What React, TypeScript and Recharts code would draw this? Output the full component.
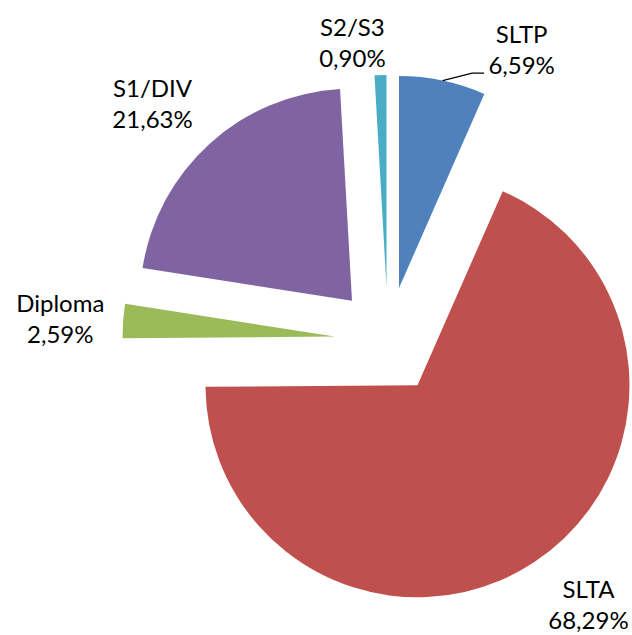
import { PieChart, Pie, Cell } from 'recharts';

const CATEGORIES = ['SLTP', 'SLTA', 'Diploma', 'S1/DIV', 'S2/S3'];
const SHARES = [6.59, 68.29, 2.59, 21.63, 0.9];
const PCT_LABELS = ['6,59%', '68,29%', '2,59%', '21,63%', '0,90%'];
const COLORS = ['#4F81BD', '#C0504D', '#9BBB59', '#8064A2', '#4BACC6'];

// label placement: distance from pie centre, and angular nudge (deg, clockwise) from slice mid
const LABEL_R = [312, 339, 328, 328, 291];
const LABEL_NUDGE = [13.5, -2.9, -2.0, -3.7, -5.4];

const data = CATEGORIES.map((name, i) => ({ name, value: SHARES[i], pct: PCT_LABELS[i] }));

const CX = 388;
const CY = 340.5;
const RADIUS = 212;
const EXPLODE = 53.6;
const FONT = 'Lato, "Open Sans", sans-serif';

const total = SHARES.reduce((a, b) => a + b, 0);
// clockwise-from-12-o'clock mid angle of each slice
const midCw = SHARES.map((v, i) => {
  const before = SHARES.slice(0, i).reduce((a, b) => a + b, 0);
  return ((before + v / 2) / total) * 360;
});
const rad = (d: number) => (d * Math.PI) / 180;

function renderLabel(props: any) {
  const { cx, cy, midAngle, index } = props;
  const ang = midAngle - LABEL_NUDGE[index];
  const x = cx + LABEL_R[index] * Math.cos(rad(ang));
  const y = cy - LABEL_R[index] * Math.sin(rad(ang));
  let leader = null;
  if (index === 0) {
    const ex = cx + EXPLODE * Math.cos(rad(midAngle));
    const ey = cy - EXPLODE * Math.sin(rad(midAngle));
    const sx = ex + RADIUS * Math.cos(rad(midAngle));
    const sy = ey - RADIUS * Math.sin(rad(midAngle));
    const endX = x - 37.5;
    const endY = y + 14.5;
    leader = (
      <polyline
        points={`${sx},${sy} ${endX - 12},${endY} ${endX},${endY}`}
        fill="none"
        stroke="#000"
        strokeWidth={1.3}
      />
    );
  }
  return (
    <g key={`lbl-${index}`}>
      {leader}
      <text x={x} y={y} textAnchor="middle" fontFamily={FONT} fontSize={24} fill="#000">
        <tspan x={x} y={y - 15.5}>{CATEGORIES[index]}</tspan>
        <tspan x={x} y={y + 15.5}>{PCT_LABELS[index]}</tspan>
      </text>
    </g>
  );
}

export default function App() {
  return (
    <div style={{ position: 'absolute', left: 0, top: 0, width: 632, height: 635, background: '#fff' }}>
      <PieChart width={632} height={635} margin={{ top: 0, right: 0, bottom: 0, left: 0 }}>
        {data.map((_, s) => (
          <Pie
            key={`slice-${s}`}
            data={data}
            dataKey="value"
            nameKey="name"
            cx={CX + EXPLODE * Math.sin(rad(midCw[s]))}
            cy={CY - EXPLODE * Math.cos(rad(midCw[s]))}
            outerRadius={RADIUS}
            startAngle={90}
            endAngle={-270}
            stroke="none"
            labelLine={false}
            isAnimationActive={false}
          >
            {data.map((d, i) => (
              <Cell key={d.name} fill={i === s ? COLORS[i] : 'none'} stroke="none" />
            ))}
          </Pie>
        ))}
        <Pie
          data={data}
          dataKey="value"
          nameKey="name"
          cx={CX}
          cy={CY}
          outerRadius={RADIUS}
          startAngle={90}
          endAngle={-270}
          stroke="none"
          fill="none"
          label={renderLabel}
          labelLine={false}
          isAnimationActive={false}
        >
          {data.map((d) => (
            <Cell key={d.name} fill="none" stroke="none" />
          ))}
        </Pie>
      </PieChart>
    </div>
  );
}
